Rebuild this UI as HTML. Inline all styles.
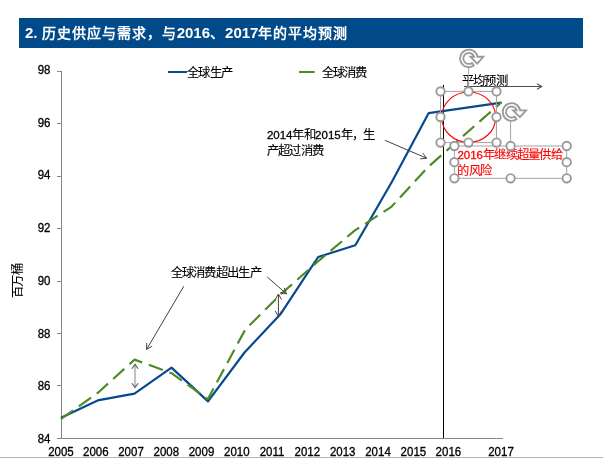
<!DOCTYPE html>
<html lang="zh-CN"><head><meta charset="utf-8">
<style>
html,body{margin:0;padding:0;background:#fff;width:603px;height:460px;overflow:hidden;}
body{position:relative;font-family:"Liberation Sans",sans-serif;}
svg{position:absolute;left:0;top:0;will-change:transform;}
text{font-family:"Liberation Sans",sans-serif;}
.t{font-size:14px;letter-spacing:1px;}
.c{font-size:12.3px;letter-spacing:-0.7px;stroke-width:0.12px;}
.d{font-size:11.5px;letter-spacing:0;stroke-width:0.3px;}
</style></head><body>
<svg width="603" height="460" viewBox="0 0 603 460">
<!-- header -->
<rect x="19" y="18" width="564" height="30" fill="#004A8A"/>
<text x="25" y="38.3" fill="#fff" font-size="15" font-weight="bold">2. <tspan class="t">历史供应与需求，与</tspan>2016<tspan class="t">、</tspan>2017<tspan class="t">年的平均预测</tspan></text>

<!-- bottom line -->
<rect x="0" y="457" width="603" height="1" fill="#b3b3b3"/>

<!-- axes -->
<g stroke="#868686" stroke-width="1" fill="none" shape-rendering="crispEdges">
<line x1="61.5" y1="71" x2="61.5" y2="438.5"/>
<line x1="57" y1="438.5" x2="502.5" y2="438.5"/>
<line x1="57" y1="71.5" x2="61.5" y2="71.5"/>
<line x1="57" y1="123.5" x2="61.5" y2="123.5"/>
<line x1="57" y1="176.5" x2="61.5" y2="176.5"/>
<line x1="57" y1="228.5" x2="61.5" y2="228.5"/>
<line x1="57" y1="281.5" x2="61.5" y2="281.5"/>
<line x1="57" y1="333.5" x2="61.5" y2="333.5"/>
<line x1="57" y1="385.5" x2="61.5" y2="385.5"/>
</g>
<g font-size="11.5" fill="#000" stroke="#000" stroke-width="0.3" text-anchor="end">
<text x="50.5" y="0" transform="translate(0,73.8) scale(1,1.05)">98</text>
<text x="50.5" y="0" transform="translate(0,126.7) scale(1,1.05)">96</text>
<text x="50.5" y="0" transform="translate(0,179.4) scale(1,1.05)">94</text>
<text x="50.5" y="0" transform="translate(0,232.1) scale(1,1.05)">92</text>
<text x="50.5" y="0" transform="translate(0,284.8) scale(1,1.05)">90</text>
<text x="50.5" y="0" transform="translate(0,337.5) scale(1,1.05)">88</text>
<text x="50.5" y="0" transform="translate(0,390.2) scale(1,1.05)">86</text>
<text x="50.5" y="0" transform="translate(0,442.6) scale(1,1.05)">84</text>
</g>
<g font-size="11.5" fill="#000" stroke="#000" stroke-width="0.3" text-anchor="middle">
<text x="61" y="0" transform="translate(0,455.8) scale(1,1.05)">2005</text>
<text x="95.8" y="0" transform="translate(0,455.8) scale(1,1.05)">2006</text>
<text x="131" y="0" transform="translate(0,455.8) scale(1,1.05)">2007</text>
<text x="166.3" y="0" transform="translate(0,455.8) scale(1,1.05)">2008</text>
<text x="201.5" y="0" transform="translate(0,455.8) scale(1,1.05)">2009</text>
<text x="236.8" y="0" transform="translate(0,455.8) scale(1,1.05)">2010</text>
<text x="272" y="0" transform="translate(0,455.8) scale(1,1.05)">2011</text>
<text x="307.3" y="0" transform="translate(0,455.8) scale(1,1.05)">2012</text>
<text x="342.7" y="0" transform="translate(0,455.8) scale(1,1.05)">2013</text>
<text x="378" y="0" transform="translate(0,455.8) scale(1,1.05)">2014</text>
<text x="413.4" y="0" transform="translate(0,455.8) scale(1,1.05)">2015</text>
<text x="448.4" y="0" transform="translate(0,455.8) scale(1,1.05)">2016</text>
<text x="501" y="0" transform="translate(0,455.8) scale(1,1.05)">2017</text>
</g>
<text transform="translate(22,281) rotate(-90)" class="c" text-anchor="middle" fill="#000" stroke="#000">百万桶</text>

<!-- vertical black line -->
<line x1="443.5" y1="85" x2="443.5" y2="438" stroke="#000" stroke-width="1" shape-rendering="crispEdges"/>

<!-- data lines -->
<polyline fill="none" stroke="#06498F" stroke-width="2.2" stroke-linejoin="round"
 points="61,417.7 97.7,400.4 134.5,393.7 171.5,367.6 208,401.4 244.5,352.5 280.4,314.3 318.2,257 355.3,245.2 392.2,181.2 428.7,113.1 501.5,102.6"/>
<polyline fill="none" stroke="#4E8A28" stroke-width="2.2" stroke-dasharray="15 7" stroke-linejoin="round"
 points="60.9,419.1 98,392.7 134.6,359.6 171.5,373.2 207.8,399.2 245.3,329.5 281.3,293.8 317.9,261.5 354.6,230.6 391.4,206.8 428.3,166.8 501.5,102.2"/>

<!-- legend -->
<line x1="168" y1="72" x2="187" y2="72" stroke="#0A4C92" stroke-width="2"/>
<text x="187" y="77" class="c" fill="#000" stroke="#000">全球生产</text>
<line x1="299" y1="72" x2="314.6" y2="72" stroke="#4E8A28" stroke-width="2"/>
<text x="321.5" y="77" class="c" fill="#000" stroke="#000">全球消费</text>

<!-- annotations -->
<g class="c" fill="#000" stroke="#000">
<text x="170.5" y="277">全球消费超出生产</text>
<text x="266.9" y="138.8"><tspan class="d">2014</tspan>年和<tspan class="d">2015</tspan>年，生</text>
<text x="266.9" y="154.6">产超过消费</text>
</g>
<g stroke="#404040" stroke-width="1" fill="none">
<line x1="183.8" y1="286.2" x2="146.6" y2="349.4"/>
<line x1="267.3" y1="277" x2="286.5" y2="293.9"/>
<line x1="384.9" y1="140.3" x2="426.6" y2="158.2"/>
<line x1="278.4" y1="294" x2="278.4" y2="316.5"/>
<path d="M146.73,342.98 L146.60,349.40 L152.16,346.17 M280.22,292.56 L286.50,293.90 L284.38,287.84 M420.21,158.89 L426.60,158.20 L422.70,153.10 M281.55,299.60 L278.40,294.00 L275.25,299.60 M275.25,310.90 L278.40,316.50 L281.55,310.90" stroke="#444" stroke-width="1"/>
</g>
<!-- grey double arrow 2007 -->
<line x1="135" y1="364.8" x2="135" y2="387" stroke="#c2c2c2" stroke-width="2.2"/>
<path d="M131.9,368.7 L135,364.3 L138.1,368.7 M131.9,383.3 L135,387.6 L138.1,383.3" fill="none" stroke="#5a5a5a" stroke-width="1.1"/>

<!-- 平均预测 -->
<text x="461.8" y="85" class="c" fill="#000" stroke="#000">平均预测</text>
<line x1="464" y1="86.5" x2="541.8" y2="86.5" stroke="#505050" stroke-width="1"/>
<path d="M537.00,89.20 L541.80,86.50 L537.00,83.80" fill="none" stroke="#505050" stroke-width="1.1"/>

<!-- red ellipse -->
<ellipse cx="468.7" cy="117.2" rx="27" ry="25.2" fill="none" stroke="#ff0000" stroke-width="1.2"/>

<!-- red text -->
<g class="c" fill="#ff0000" stroke="#ff0000">
<text x="457.4" y="159.2"><tspan class="d">2016</tspan>年继续超量供给</text>
<text x="457.4" y="174.5">的风险</text>
</g>

<!-- selection boxes -->
<g stroke="#a3a3a3" stroke-width="1" fill="none">
<rect x="440.5" y="91.4" width="56" height="51.2"/>
<line x1="468.6" y1="68" x2="468.6" y2="91"/>
<rect x="454.4" y="146" width="112.3" height="32.3"/>
<line x1="510.6" y1="122" x2="510.6" y2="145"/>
</g>
<g stroke="#9a9a9a" stroke-width="1.9" fill="#fff">
<circle cx="440.5" cy="91.4" r="4.2"/>
<circle cx="468.5" cy="91.4" r="4.2"/>
<circle cx="496.5" cy="91.4" r="4.2"/>
<circle cx="440.5" cy="117" r="4.2"/>
<circle cx="496.5" cy="117" r="4.2"/>
<circle cx="440.5" cy="142.6" r="4.2"/>
<circle cx="468.5" cy="142.6" r="4.2"/>
<circle cx="496.5" cy="142.6" r="4.2"/>
<circle cx="454.4" cy="146" r="4.2"/>
<circle cx="510.6" cy="146" r="4.2"/>
<circle cx="566.7" cy="146" r="4.2"/>
<circle cx="454.4" cy="162.2" r="4.2"/>
<circle cx="566.7" cy="162.2" r="4.2"/>
<circle cx="454.4" cy="178.3" r="4.2"/>
<circle cx="510.6" cy="178.3" r="4.2"/>
<circle cx="566.7" cy="178.3" r="4.2"/>
</g>
<!-- rotation handles -->
<path transform="translate(468.85,58.4)" d="M3.15,4.51 L5.05,7.21 A8.8,8.8 0 1 1 8.64,-1.65 L14.5,-1.65 L8.4,5.2 L1.5,-1.65 L5.25,-1.65 A5.5,5.5 0 1 0 3.15,4.51 Z" fill="#fff" stroke="#9a9a9a" stroke-width="1.8" stroke-linejoin="miter"/>
<path transform="translate(511.55,112)" d="M3.15,4.51 L5.05,7.21 A8.8,8.8 0 1 1 8.64,-1.65 L14.5,-1.65 L8.4,5.2 L1.5,-1.65 L5.25,-1.65 A5.5,5.5 0 1 0 3.15,4.51 Z" fill="#fff" stroke="#9a9a9a" stroke-width="1.8" stroke-linejoin="miter"/>
</svg>
</body></html>
